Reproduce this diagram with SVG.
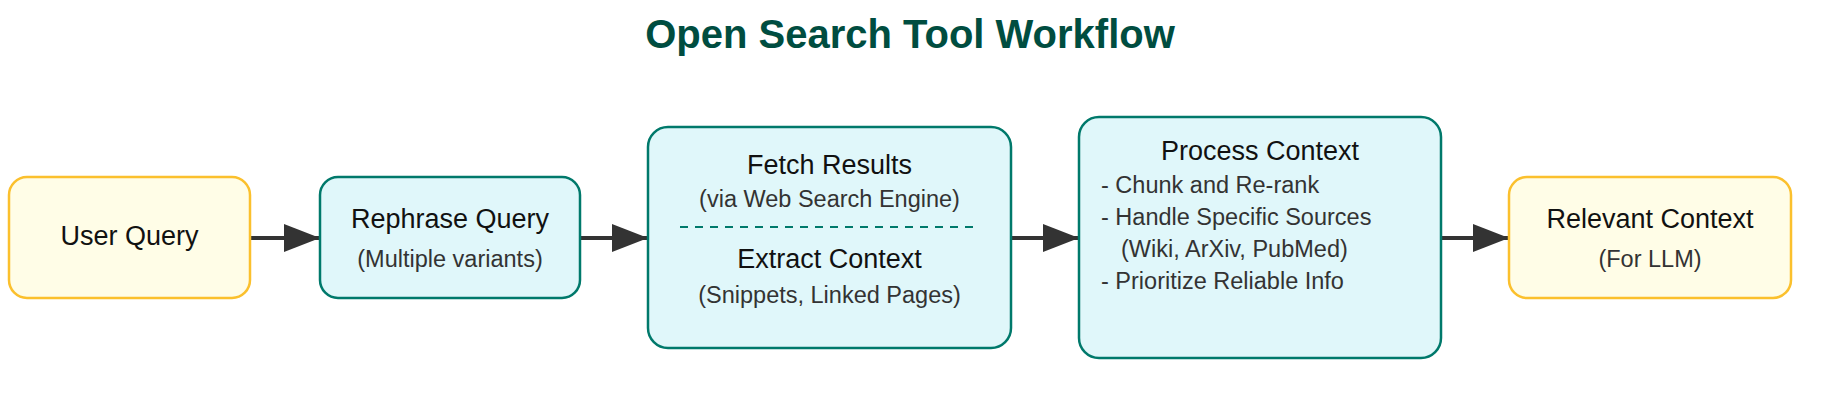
<svg xmlns="http://www.w3.org/2000/svg" width="1822" height="410" viewBox="0 0 1822 410">
<defs>
<style>
.yel{fill:#fffde7;stroke:#fbc02d;stroke-width:2.5}
.teal{fill:#e0f7fa;stroke:#00796b;stroke-width:2.5}
.main{font-family:"Liberation Sans",Arial,sans-serif;font-size:27px;fill:#111;text-anchor:middle}
.sub{font-family:"Liberation Sans",Arial,sans-serif;font-size:23.5px;fill:#333;text-anchor:middle}
.bul{font-family:"Liberation Sans",Arial,sans-serif;font-size:23.5px;fill:#333}
.title{font-family:"Liberation Sans",Arial,sans-serif;font-size:40px;font-weight:bold;fill:#004d40;text-anchor:middle}
.edge{stroke:#333;stroke-width:4;fill:none}
</style>
<marker id="arr" markerUnits="userSpaceOnUse" markerWidth="36" markerHeight="28" refX="36" refY="14" orient="auto">
<path d="M0,0 L36,14 L0,28 Z" fill="#333"/>
</marker>
</defs>
<rect width="1822" height="410" fill="#fff"/>
<text class="title" x="910" y="48">Open Search Tool Workflow</text>
<g id="connectors">
<line class="edge" x1="250" y1="238" x2="320" y2="238" marker-end="url(#arr)"/>
<line class="edge" x1="580" y1="238" x2="648" y2="238" marker-end="url(#arr)"/>
<line class="edge" x1="1011" y1="238" x2="1079" y2="238" marker-end="url(#arr)"/>
<line class="edge" x1="1441" y1="238" x2="1509" y2="238" marker-end="url(#arr)"/>
</g>
<g id="user-query">
<rect class="yel" x="9" y="177" width="241" height="121" rx="18"/>
<text class="main" x="129.5" y="245">User Query</text>
</g>
<g id="rephrase-query">
<rect class="teal" x="320" y="177" width="260" height="121" rx="18"/>
<text class="main" x="450" y="228">Rephrase Query</text>
<text class="sub" x="450" y="267">(Multiple variants)</text>
</g>
<g id="fetch-extract">
<rect class="teal" x="648" y="127" width="363" height="221" rx="20"/>
<text class="main" x="829.5" y="174">Fetch Results</text>
<text class="sub" x="829.5" y="207">(via Web Search Engine)</text>
<line x1="680" y1="227" x2="976" y2="227" stroke="#00796b" stroke-width="2" stroke-dasharray="8 7"/>
<text class="main" x="829.5" y="268">Extract Context</text>
<text class="sub" x="829.5" y="303">(Snippets, Linked Pages)</text>
</g>
<g id="process-context">
<rect class="teal" x="1079" y="117" width="362" height="241" rx="20"/>
<text class="main" x="1260" y="160">Process Context</text>
<text class="bul" x="1101" y="193">- Chunk and Re-rank</text>
<text class="bul" x="1101" y="225">- Handle Specific Sources</text>
<text class="bul" x="1121" y="257">(Wiki, ArXiv, PubMed)</text>
<text class="bul" x="1101" y="289">- Prioritize Reliable Info</text>
</g>
<g id="relevant-context">
<rect class="yel" x="1509" y="177" width="282" height="121" rx="18"/>
<text class="main" x="1650" y="228">Relevant Context</text>
<text class="sub" x="1650" y="267">(For LLM)</text>
</g>
</svg>
